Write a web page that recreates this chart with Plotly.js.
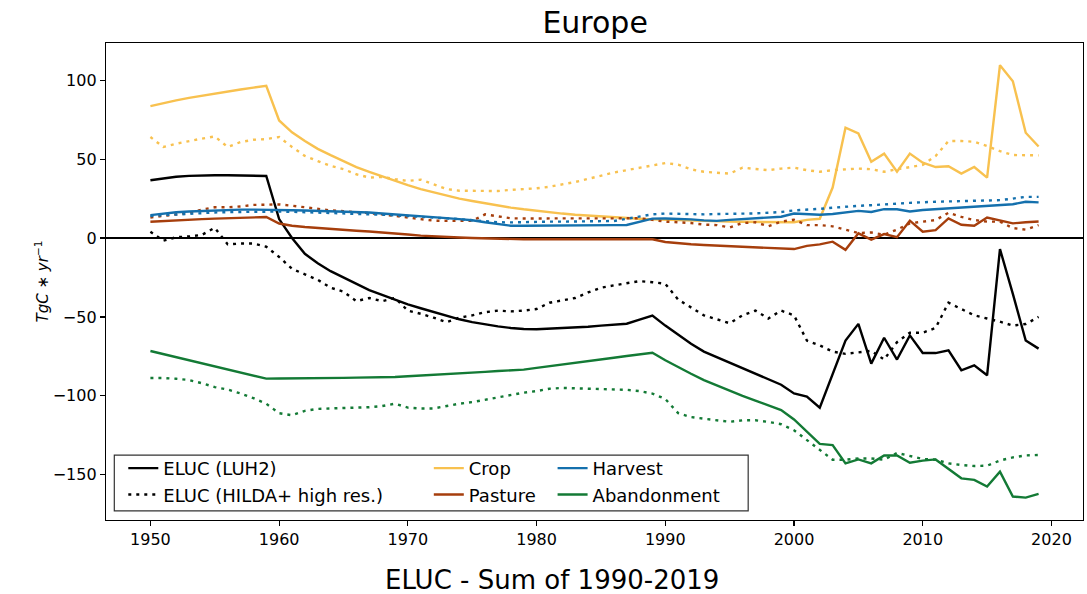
<!DOCTYPE html>
<html>
<head>
<meta charset="utf-8">
<script src="https://cdn.plot.ly/plotly-3.0.1.min.js"></script>
<style>html,body{margin:0;padding:0;background:#fff;}#chart{width:1087px;height:594px;}</style>
</head>
<body>
<div id="chart"></div>
<script>
// Years 1950..2019
const years = [];
for (let y = 1950; y <= 2019; y++) years.push(y);

const elucLUH2 = [
  36.6, 37.8, 38.8, 39.4, 39.7, 39.8, 39.8, 39.7, 39.5, 39.3,
  12, 0, -10, -16, -21, -25, -29, -33, -36, -39,
  -42, -44.5, -47, -49.5, -51.5, -53.3, -54.8, -56, -57, -57.7,
  -57.8, -57.5, -57.2, -56.8, -56.2, -55.5, -55, -54.3, -51.7, -49.1,
  -55.5, -61.5, -67, -72, -75.5, -79, -83, -86, -89.5, -93,
  -98.5, -100.5, -107.5, -86, -65, -54.4, -79.6, -63.2, -77, -61.7,
  -72.9, -72.9, -71.2, -83.8, -80.7, -87, -7, -35.4, -65, -70.1
];
const elucHILDA = [
  4, -1.7, 0.5, 1, 2, 6.5, -4, -3.5, -3.5, -5.5,
  -12, -19.5, -23, -26.5, -31.5, -34, -40, -38, -40, -38,
  -46, -48, -50.5, -53.3, -50.5, -49, -47, -46, -46.5, -46,
  -45, -41, -39.5, -38, -34.5, -31.5, -30, -28.5, -27.3, -28,
  -29, -39, -44, -49, -51.5, -54, -49, -46, -51, -46,
  -49, -65, -68, -72, -73.4, -72.5, -71.5, -77, -66, -60,
  -60, -57, -41, -45, -49, -51, -53, -55.5, -54.5, -50
];
const cropLUH2 = [
  83.6, 85.5, 87.2, 88.8, 90.2, 91.6, 92.9, 94.1, 95.3, 96.5,
  74.5, 67, 61.5, 56.5, 52.5, 48.5, 45, 42, 39, 36,
  33.5, 31, 29, 27, 25, 23.5, 22, 20.5, 19.3, 18.2,
  17.2, 16.3, 15.5, 14.8, 14.2, 13.6, 13.1, 12.6, 12.2, 11.8,
  11.5, 11.2, 11, 10.8, 10.6, 10.4, 10.3, 10.2, 10.1, 10,
  10, 11.5, 12.2, 32, 69.9, 66.3, 48.4, 53.5, 42, 53.5,
  47.8, 45, 45.5, 40.8, 45, 38.3, 109.5, 99.4, 66.7, 58
];
const cropHILDA = [
  64, 57.7, 59.8, 61.5, 63, 64.4, 57.7, 60.8, 62.3, 62.7,
  64, 57.7, 52, 48.8, 45.7, 43.6, 40.4, 38.3, 38.7, 37.3,
  36.2, 37, 34, 31, 30, 30, 30, 29.8, 30.5, 31,
  31.5, 32.5, 34, 35.5, 37.5, 39.5, 41.5, 43, 44.5, 46,
  47.5, 46.5, 43.5, 42, 41.5, 40.8, 44.6, 43.6, 43, 44,
  44.6, 43, 42, 43, 43.6, 44, 43.6, 42, 43.6, 45,
  46.3, 52, 61.5, 61.5, 61, 58.3, 55, 52.6, 52.4, 52.4
];
const pastureLUH2 = [
  10.3, 10.8, 11.3, 11.7, 12, 12.3, 12.6, 12.9, 13.1, 13.3,
  9.2, 7.8, 7, 6.3, 5.7, 5.1, 4.6, 4.1, 3.6, 3.1,
  2.2, 1.5, 1, 0.6, 0.3, 0, -0.3, -0.5, -0.7, -0.8,
  -0.8, -0.8, -0.8, -0.8, -0.8, -0.8, -0.8, -0.8, -0.8, -0.8,
  -2.5, -3.3, -3.9, -4.4, -4.8, -5.2, -5.5, -5.8, -6.1, -6.4,
  -7, -5, -4, -2.3, -7.5, 3, -1, 2.5, 0.5, 11,
  4, 5, 12.4, 8.4, 7.8, 13, 11, 9.3, 10, 10.5
];
const pastureHILDA = [
  13, 14, 15, 16, 18, 19.5, 19.5, 20, 21, 21.3,
  21.3, 20.5, 19.5, 18.5, 17.5, 17, 16.5, 15.8, 15, 14,
  13, 12, 11, 10.9, 10.8, 10.9, 15, 13.8, 12.5, 12.4,
  12.4, 12.4, 12.4, 12.4, 12.4, 12.4, 12.5, 12.5, 12.5, 11.5,
  10.4, 10, 9.5, 8.5, 8.2, 6.7, 9.5, 10, 7.5, 10.4,
  11.6, 8.2, 8.2, 7.4, 5.3, 3.2, 3.5, 2.1, 5.3, 9.3,
  10.4, 11.4, 16, 13.4, 11.4, 10.4, 10.4, 6.3, 5.3, 8.2
];
const harvestLUH2 = [
  14.5, 15.5, 16.3, 16.8, 17.2, 17.5, 17.8, 18, 18, 18,
  17.8, 17.6, 17.4, 17.2, 17, 16.8, 16.5, 16.2, 15.5, 15,
  14.5, 13.8, 13.2, 12.6, 12, 11.3, 10, 8.8, 7.8, 7.8,
  7.8, 7.9, 7.9, 8, 8.1, 8.2, 8.2, 8.3, 10.5, 12.3,
  12.4, 12.2, 11.8, 11.2, 10.9, 11.5, 12, 12.3, 12.8, 13.5,
  15.5, 15, 14.8, 15.2, 16, 17.2, 16.5, 18.3, 18.2, 16.8,
  17.8, 18.3, 18.8, 19.5, 20.2, 20.6, 21, 21.4, 23, 22.6
];
const harvestHILDA = [
  14, 14.5, 15, 15.5, 16, 16.2, 16.4, 16.6, 16.8, 16.8,
  16.8, 16.6, 16.4, 16.2, 16, 15.8, 15.5, 15.2, 14.8, 14.4,
  14, 13.5, 13, 12.5, 12, 11.3, 10.6, 10, 9.9, 10.2,
  10.4, 10.4, 10.4, 10.5, 10.6, 10.7, 10.8, 12.2, 13.5, 15,
  15.5, 15.3, 15, 15, 15.2, 15.2, 15.2, 15.6, 16, 16.5,
  17.5, 17.9, 18.5, 19.2, 20, 20.4, 20.8, 21.5, 21.8, 22.3,
  22.8, 23, 23.2, 23.4, 23.6, 23.8, 24, 25, 26.1, 26.1
];
const abandonLUH2 = [
  -71.6, -73.5, -75.5, -77.4, -79.4, -81.3, -83.3, -85.2, -87.2, -89.1,
  -89, -89, -88.9, -88.8, -88.7, -88.6, -88.5, -88.4, -88.3, -88.1,
  -87.6, -87.2, -86.7, -86.2, -85.8, -85.3, -84.8, -84.3, -83.9, -83.4,
  -82.3, -81.3, -80.2, -79.1, -78.1, -77, -75.9, -74.8, -73.8, -72.7,
  -77.5, -82, -86, -90, -93.5, -97, -100, -103, -106, -109,
  -115, -122.5, -130.5, -131.2, -142.8, -140.3, -142.8, -137.8, -137.8, -142.4,
  -141.1, -140.3, -146.6, -152.3, -153.3, -157.5, -148.1, -163.8, -164.5, -162.2
];
const abandonHILDA = [
  -88.7, -88.7, -89.2, -90, -92, -94.5, -96, -98.5, -101.5, -105,
  -111, -112.3, -109.5, -108.3, -108, -107.8, -107.6, -107.2, -106.5, -105,
  -107.5, -108, -108, -106.5, -105, -104, -102.5, -101, -99.5, -98,
  -97, -95.5, -95, -95.2, -95.5, -95.6, -96, -96.2, -97, -98.6,
  -102, -111, -113.5, -114.5, -115.3, -116.5, -115.5, -115.5, -116.5, -118,
  -121.8, -128, -134.4, -140.5, -140.5, -139.7, -139.7, -140.5, -136.2, -138.2,
  -140, -140.5, -142.8, -143.8, -144.5, -144.3, -141, -139, -137.8, -137.5
];

const C_BLACK = '#000000';
const C_CROP = '#f8c14f';
const C_PASTURE = '#a63e0c';
const C_HARVEST = '#1470ad';
const C_ABANDON = '#137a35';
const LW = 2.4;
const DOT = '3px,5px';

function tr(y, name, color, dotted, legend, show) {
  return {
    x: years, y: y, name: name, type: 'scatter', mode: 'lines',
    line: {color: color, width: LW, dash: dotted ? DOT : 'solid'},
    legend: legend, showlegend: show, hoverinfo: 'skip'
  };
}

const data = [
  tr(elucLUH2, 'ELUC (LUH2)', C_BLACK, false, 'legend', true),
  tr(elucHILDA, 'ELUC (HILDA+ high res.)', C_BLACK, true, 'legend', true),
  tr(cropLUH2, 'Crop', C_CROP, false, 'legend2', true),
  tr(cropHILDA, 'Crop HILDA', C_CROP, true, 'legend2', false),
  tr(pastureLUH2, 'Pasture', C_PASTURE, false, 'legend2', true),
  tr(pastureHILDA, 'Pasture HILDA', C_PASTURE, true, 'legend2', false),
  tr(harvestLUH2, 'Harvest', C_HARVEST, false, 'legend3', true),
  tr(harvestHILDA, 'Harvest HILDA', C_HARVEST, true, 'legend3', false),
  tr(abandonLUH2, 'Abandonment', C_ABANDON, false, 'legend3', true),
  tr(abandonHILDA, 'Abandonment HILDA', C_ABANDON, true, 'legend3', false)
];

const FONT = 'DejaVu Sans, sans-serif';
const legFont = {family: FONT, size: 18, color: '#000'};
function leg(x) {
  return {x: x, y: 0.147, xanchor: 'left', yanchor: 'top', orientation: 'v',
    bgcolor: 'rgba(0,0,0,0)', borderwidth: 0, font: legFont, traceorder: 'normal',
    itemclick: false, itemdoubleclick: false};
}

const layout = {
  width: 1087, height: 594,
  margin: {l: 106, r: 4, t: 43, b: 74},
  paper_bgcolor: '#fff', plot_bgcolor: '#fff',
  font: {family: FONT, color: '#000'},
  title: {text: 'Europe', font: {family: FONT, size: 30, color: '#000'}, x: 0.5475, xanchor: 'center', y: 0.962, yanchor: 'middle'},
  xaxis: {
    range: [1946.55, 2022.45], showgrid: false, zeroline: false,
    showline: true, mirror: true, linecolor: '#000', linewidth: 1.2,
    ticks: 'outside', ticklen: 5, tickcolor: '#000', tickwidth: 1.2,
    tickvals: [1950, 1960, 1970, 1980, 1990, 2000, 2010, 2020],
    tickfont: {family: FONT, size: 16, color: '#000'}
  },
  yaxis: {
    range: [-178.7, 123.6], showgrid: false,
    zeroline: true, zerolinecolor: '#000', zerolinewidth: 2.2,
    showline: true, mirror: true, linecolor: '#000', linewidth: 1.2,
    ticks: 'outside', ticklen: 5, tickcolor: '#000', tickwidth: 1.2,
    tickvals: [-150, -100, -50, 0, 50, 100],
    tickfont: {family: FONT, size: 16, color: '#000'},
    title: {text: '<i>TgC</i> ∗ <i>yr</i><sup>−1</sup>', font: {family: FONT, size: 15, color: '#000'}, standoff: 0}
  },
  legend: leg(0.0177),
  legend2: leg(0.3304),
  legend3: leg(0.4571),
  annotations: [{
    text: 'ELUC - Sum of 1990-2019', xref: 'paper', yref: 'paper',
    x: 0.4564, y: -0.1257, xanchor: 'center', yanchor: 'middle', showarrow: false,
    font: {family: FONT, size: 26, color: '#000'}
  }],
  shapes: [{
    type: 'rect', xref: 'paper', yref: 'paper',
    x0: 0.0085, x1: 0.6573, y0: 0.019, y1: 0.136,
    line: {color: '#333', width: 1.2}, fillcolor: 'rgba(255,255,255,0.8)', layer: 'below'
  }]
};

Plotly.newPlot('chart', data, layout, {displayModeBar: false, staticPlot: true});
</script>
</body>
</html>
